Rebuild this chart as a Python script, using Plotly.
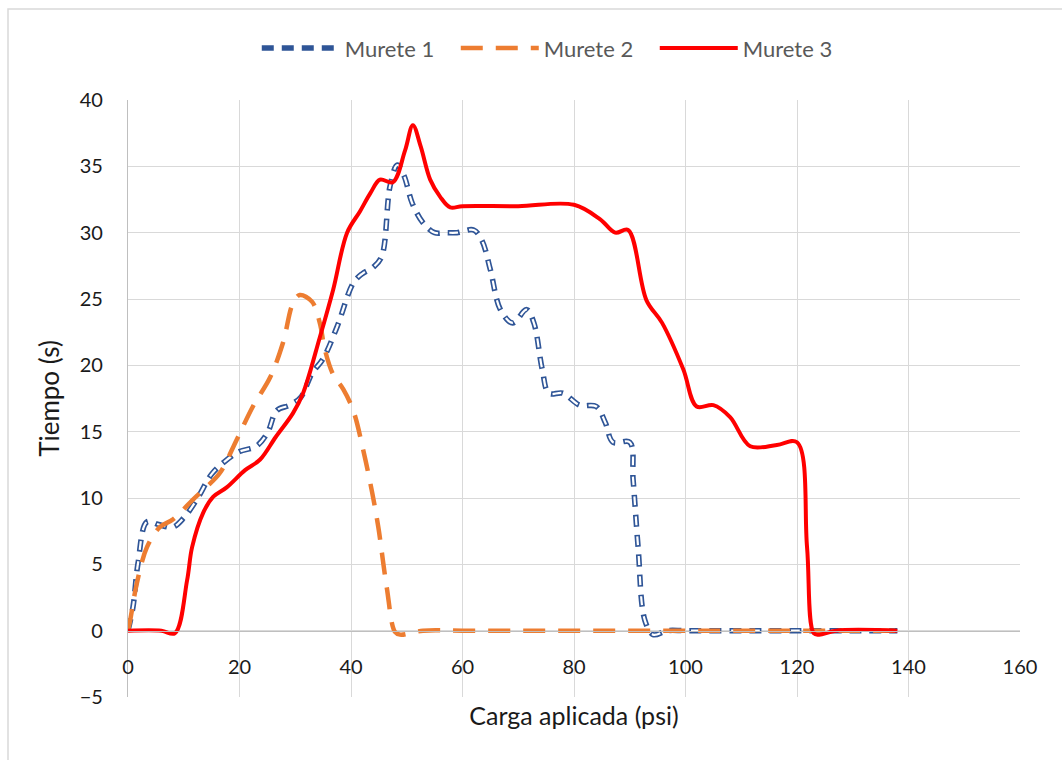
import plotly.graph_objects as go

# Murete 1
x1 = [0, 0.9, 1.8, 3.4, 5.5, 8, 10, 12.5, 15, 17.5, 20, 23, 25, 26.7, 29, 31, 33, 35, 37.5,
      40.4, 42, 44, 45.5, 47, 48.3, 49.5, 51, 53, 55, 57, 59, 62, 63.5, 65, 66.8, 69, 71.5,
      72.8, 74.3, 75.5, 78, 81, 84, 85.6, 87, 90, 90.6, 91.5, 92.7, 94.2, 96.7, 100, 110,
      120, 130, 138]
y1 = [0, 1.8, 5.1, 8.2, 8.0, 7.8, 8.5, 10, 11.8, 12.8, 13.5, 13.9, 14.9, 16.6, 17, 17.6,
      19.4, 20.5, 22.9, 26.2, 26.9, 27.4, 28.2, 33.5, 35.1, 34.3, 32.2, 30.7, 30, 30, 30,
      30.2, 29.4, 27.2, 24.2, 23.2, 24.2, 23.2, 19.7, 17.9, 17.9, 17, 16.9, 15.7, 14.2, 14.2,
      11.4, 6.3, 0.8, -0.3, 0, 0, 0, 0, 0, 0]

# Murete 2
x2 = [0, 0.4, 1.6, 3.4, 5.7, 8.1, 11.7, 14, 16.5, 19.5, 22.4, 25.5, 27.8, 29.6, 30.8, 33,
      34.4, 35.3, 36.8, 38.6, 40.4, 42.2, 43.8, 44.9, 46.4, 47.9, 48.8, 52.9, 60, 70, 80,
      90, 100, 110, 120, 130, 138]
y2 = [0, 0.8, 3.6, 6.3, 7.8, 8.4, 9.9, 10.8, 11.9, 14.4, 16.9, 19.1, 21.7, 24.7, 25.3, 24.8,
      23.2, 21.2, 19.3, 18.2, 16.6, 13.6, 10.4, 7.8, 3.3, -0.1, -0.3, 0, 0, 0, 0,
      0, 0, 0, 0, 0, 0]

# Murete 3
x3 = [0, 6, 8.4, 10.6, 11.5, 13.5, 15.3, 17.7, 21, 23.7, 26.5, 29.6, 31.4, 34.4, 36.8, 39.3,
      41.6, 43.5, 45.2, 47.5, 49.7, 51.1, 52.5, 54.2, 56, 57.8, 60, 70, 80, 84.7, 87.4, 89.7,
      93, 95.8, 99.6, 102, 105, 108, 111.6, 116.4, 120, 121.8, 123, 124, 127, 138]
y3 = [0, 0, -0.2, 3.8, 6.3, 8.9, 10.1, 10.8, 12.1, 12.9, 14.6, 16.4, 17.9, 22.1, 25.7, 30,
      31.6, 33, 34, 33.8, 36.2, 38.1, 36.5, 34, 32.7, 31.9, 32, 32, 32.1, 31, 30, 30.2,
      24.9, 23.2, 19.7, 16.9, 17, 16.1, 13.9, 14, 14.2, 6.3, -0.2, -0.3, 0, 0]

names = ["Murete 1", "Murete 2", "Murete 3"]
x_ticks = [0, 20, 40, 60, 80, 100, 120, 140, 160]
y_ticks = [-5, 0, 5, 10, 15, 20, 25, 30, 35, 40]

FONT = "Lato, 'Open Sans', sans-serif"
BLUE = "#2f5597"
ORANGE = "#ed7d31"
RED = "#ff0000"
TXT = "#1a1a1a"

fig = go.Figure()
fig.add_trace(go.Scatter(x=x1, y=y1, mode="lines", name=names[0],
                         line=dict(color=BLUE, width=5.5, shape="spline", dash="12px,8px")))
fig.add_trace(go.Scatter(x=x1, y=y1, mode="lines", name=names[0], showlegend=False,
                         hoverinfo="skip",
                         line=dict(color="white", width=2.2, shape="spline",
                                   dash="0px,1.6px,8.8px,9.6px")))
fig.add_trace(go.Scatter(x=x2, y=y2, mode="lines", name=names[1],
                         line=dict(color=ORANGE, width=4.5, shape="spline", dash="22px,13px")))
fig.add_trace(go.Scatter(x=x3, y=y3, mode="lines", name=names[2],
                         line=dict(color=RED, width=4, shape="spline")))

fig.update_layout(
    width=1062, height=760,
    margin=dict(l=128, r=42, t=100, b=63),
    paper_bgcolor="white", plot_bgcolor="white",
    font=dict(family=FONT, size=20, color=TXT),
    showlegend=True,
    legend=dict(orientation="h", x=0.479, xanchor="center", y=1.122, yanchor="top",
                font=dict(size=22, color="#595959"), itemwidth=78, entrywidth=106,
                bgcolor="rgba(0,0,0,0)"),
    xaxis=dict(range=[0, 160], tickvals=x_ticks, showgrid=True, gridcolor="#d9d9d9",
               gridwidth=1.3, zeroline=False, showline=True, linecolor="#bfbfbf",
               linewidth=1.3, anchor="free", position=5 / 45,
               ticks="outside", ticklen=18, tickcolor="rgba(0,0,0,0)",
               tickfont=dict(size=20, color=TXT),
               title=dict(text="Carga aplicada (psi)", font=dict(size=25, color=TXT),
                          standoff=30)),
    yaxis=dict(range=[-5, 40], tickvals=y_ticks, showgrid=True, gridcolor="#d9d9d9",
               gridwidth=1.3, zeroline=False, showline=True, linecolor="#bfbfbf",
               linewidth=1.3, ticks="outside", ticklen=20, tickcolor="rgba(0,0,0,0)",
               tickfont=dict(size=20, color=TXT),
               title=dict(text="Tiempo (s)", font=dict(size=26, color=TXT),
                          standoff=12)),
)

fig.add_shape(type="rect", xref="paper", yref="paper",
              x0=(8 - 128) / 892, x1=(1075 - 128) / 892,
              y0=(697 - 775) / 597, y1=(697 - 9) / 597,
              line=dict(color="#d9d9d9", width=1.5), fillcolor="rgba(0,0,0,0)", layer="below")

fig.write_html("out.html")
